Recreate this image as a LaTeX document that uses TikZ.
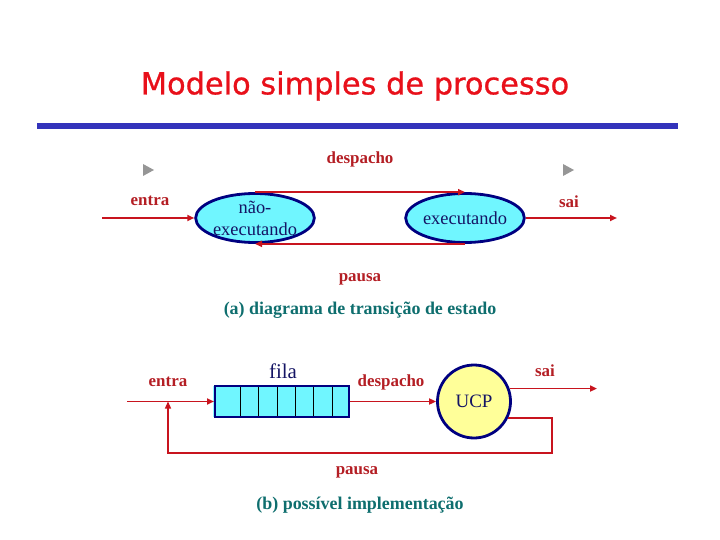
\documentclass[tikz,border=0pt]{standalone}
\usepackage{fontspec}
\setmainfont{Liberation Serif}
\newfontfamily\titlefont[BoldFont={DejaVu Sans},BoldFeatures={FakeBold=0.8}]{DejaVu Sans}
\usetikzlibrary{arrows.meta,shapes.geometric}
\definecolor{titlered}{RGB}{232,16,26}
\definecolor{barblue}{RGB}{51,51,187}
\definecolor{lblred}{RGB}{180,30,36}
\definecolor{arrred}{RGB}{200,20,30}
\definecolor{navyb}{RGB}{0,0,128}
\definecolor{navyt}{RGB}{20,20,100}
\definecolor{capteal}{RGB}{14,110,110}
\definecolor{cyanfill}{RGB}{112,246,255}
\definecolor{ucpfill}{RGB}{255,255,153}
\definecolor{trigray}{RGB}{150,150,150}
\tikzset{
  lbl/.style={text=lblred,font=\fontsize{17}{19}\selectfont\bfseries,inner sep=0pt},
  captxt/.style={text=capteal,font=\fontsize{18}{20}\selectfont\bfseries,inner sep=0pt},
  flow/.style={draw=arrred,line width=1.8bp,-{Triangle[length=7bp,width=6bp]}},
  fbflow/.style={draw=arrred,line width=1.3bp,-{Triangle[length=7bp,width=6bp]}},
  state/.style={ellipse,draw=navyb,line width=2.8bp,fill=cyanfill,minimum width=116bp,minimum height=49bp,inner sep=0pt,text=navyt,font=\fontsize{18.5}{22}\selectfont,align=center},
}
\begin{document}
\begin{tikzpicture}[x=1bp,y=-1bp]
\useasboundingbox (0,0) rectangle (720,540);
% title
\node[text=titlered,font=\titlefont\bfseries\fontsize{30.5}{33}\selectfont,inner sep=0pt] (title) at (355,86) {Modelo simples de processo};
\fill[barblue] (37,123) rectangle (678,129);
% top diagram
\fill[trigray] (143,164) -- (154,170) -- (143,176) -- cycle;
\fill[trigray] (563,164) -- (574,170) -- (563,176) -- cycle;
\node[lbl] (desp1) at (360,159) {despacho};
\node[lbl] (entra1) at (150,201) {entra};
\node[lbl] (sai1) at (569,202) {sai};
\node[lbl] (pausa1) at (360,279) {pausa};
\node[state] (nexec) at (255,218) {não-\\executando};
\node[state] (exec) at (465,218) {executando};
\coordinate (in1) at (102,218);
\coordinate (out1) at (617,218);
\draw[flow] (in1) -- (nexec.west);
\draw[flow] (exec.east) -- (out1);
\draw[flow] (nexec.north) -- (exec.north);
\draw[flow] (exec.south) -- (nexec.south);
\node[captxt] (capa) at (360,310) {(a) diagrama de transição de estado};
% bottom diagram
\node[lbl] (entra2) at (168,382) {entra};
\node[text=navyt,font=\fontsize{21}{23}\selectfont,inner sep=0pt] (fila) at (283,371) {fila};
\node[lbl] (desp2) at (391,382) {despacho};
\node[lbl] (sai2) at (545,371) {sai};
\node[lbl] (pausa2) at (357,472) {pausa};
\node[captxt] (capb) at (360,505) {(b) possível implementação};
\fill[cyanfill!80!white] (212.5,386) rectangle (217,417);
\node[draw=navyb,line width=2bp,fill=cyanfill,minimum width=134bp,minimum height=31bp,inner sep=0pt] (queue) at (282,401.5) {};
\foreach \xx in {240,258,277,295,313,332}
  \draw[black,line width=0.8bp] (\xx,387) -- (\xx,416);
\node[circle,draw=navyb,line width=2.8bp,fill=ucpfill,minimum size=73bp,inner sep=0pt,text=navyt,font=\fontsize{19}{21}\selectfont] (ucp) at (474,401.5) {UCP};
\coordinate (in2) at (127,401.5);
\coordinate (junc) at (168,401.5);
\coordinate (out2) at (597,388);
\coordinate (fb1) at (552,417);
\coordinate (fb2) at (552,453);
\coordinate (fb3) at (168,453);
\draw[flow] (in2) -- (queue.west);
\draw[flow] (queue.east) -- (ucp.west);
\draw[flow] (ucp.20) -- (ucp.20 -| out2);
\draw[fbflow] (ucp.-26) -- (ucp.-26 -| fb1) -- (fb2) -- (fb3) -- (junc);
\end{tikzpicture}
\end{document}
